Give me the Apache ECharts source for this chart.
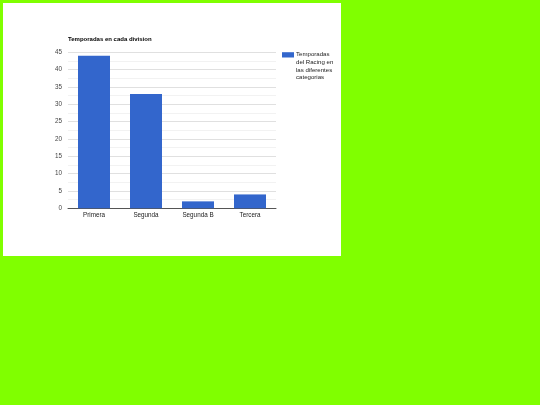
<!DOCTYPE html>
<html>
<head>
<meta charset="utf-8">
<script src="https://cdn.jsdelivr.net/npm/echarts@6/dist/echarts.min.js"></script>
<style>
  html, body { margin: 0; padding: 0; background: #80ff00; }
  #box { position: absolute; left: 3px; top: 3px; width: 338px; height: 253px; background: #fff; }
</style>
</head>
<body>
<div id="box"></div>
<script>
// datos
const categorias = ['Primera', 'Segunda', 'Segunda B', 'Tercera'];
const temporadas = [44, 33, 2, 4];
const nombreSerie = 'Temporadas del Racing en las diferentes categorias';

const chart = echarts.init(document.getElementById('box'));
const option = {
  animation: false,
  textStyle: { fontFamily: 'Liberation Sans, Arial, sans-serif' },
  title: {
    text: 'Temporadas en cada division',
    left: 65,
    top: 33,
    padding: 0,
    textStyle: { fontSize: 6, fontWeight: 'bold', color: '#000' }
  },
  legend: {
    orient: 'vertical',
    left: 279,
    top: 48,
    padding: 0,
    itemWidth: 12,
    itemHeight: 30.4,
    itemGap: 5,
    // icono pequeño arriba de una caja alta para que quede junto a la primera linea
    icon: 'path://M0,0 M0,1.2 h12 v5.3 h-12 Z M12,30.4',
    formatter: function () {
      return 'Temporadas\ndel Racing en\nlas diferentes\ncategorias';
    },
    textStyle: { fontSize: 6.1, color: '#222', lineHeight: 7.6, padding: [0, 0, 0, -3] }
  },
  grid: { left: 65, top: 49.3, width: 208, height: 156 },
  xAxis: {
    type: 'category',
    data: categorias,
    axisTick: { show: false },
    axisLine: { lineStyle: { color: '#555', width: 1 } },
    axisLabel: { fontSize: 6.3, color: '#222', margin: 4 }
  },
  yAxis: {
    type: 'value',
    min: 0,
    max: 45,
    interval: 5,
    axisLabel: { fontSize: 6.3, color: '#444', margin: 6 },
    splitLine: { lineStyle: { color: '#e0e0e0' } },
    minorTick: { show: false, splitNumber: 2 },
    minorSplitLine: { show: true, lineStyle: { color: '#f2f2f2' } }
  },
  series: [{
    name: nombreSerie,
    type: 'bar',
    data: temporadas,
    barWidth: 32,
    itemStyle: { color: '#3366cc' }
  }]
};
chart.setOption(option);
</script>
</body>
</html>
